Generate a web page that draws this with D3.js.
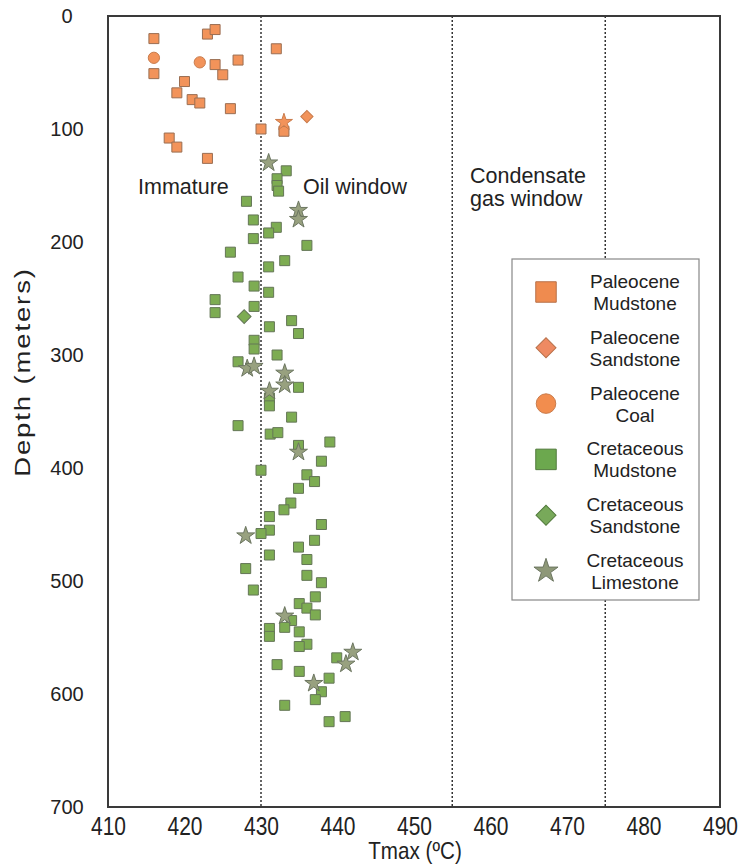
<!DOCTYPE html>
<html><head><meta charset="utf-8">
<script src="https://cdn.jsdelivr.net/npm/d3@7"></script>
<style>html,body{margin:0;padding:0;background:#fff;}svg{display:block;}</style>
</head><body>
<svg id="c" width="739" height="867"></svg>
<script>
// ---- data: [Tmax (°C), Depth (m)] ----
const paleoMudstone = [[416,20],[423,16],[424,12],[432,29],[424,43],[427,39],[416,51],[425,52],[420,58],[419,68],[421,74],[422,77],[426,82],[430,100],[433,102],[418,108],[419,116],[423,126]];
const paleoSandstone = [[436,89]];
const paleoCoal = [[416,37],[422,41]];
const paleoOther = [[433,94]];
const cretMudstone = [[433.3,137],[432.1,144],[432.1,150],[432.3,155],[428.1,164],[429,180.5],[432,187],[431,192],[429,197],[436,203],[426,209],[433.1,216.5],[431,222],[427,231],[429.1,239],[431,244.5],[424,251],[429.1,257],[424,262.5],[434,269.6],[431.1,275],[434.9,281],[429.1,287],[429.1,294.7],[432.1,300],[427,306],[434.9,328.6],[431.1,338],[431.1,345],[434,355],[427,362.5],[431.2,370],[432.2,368.7],[439,377],[434.9,380],[437.9,394],[430,402],[436,406],[437,412],[434.9,418],[433.9,431],[433,437],[431.1,443],[437.9,450],[431.1,455],[430,458],[437,464],[434.9,470],[431.1,477],[436,481],[428,489],[436,495],[437.9,501.5],[429,508],[437.1,514],[435,520],[436,524],[437.1,530],[434,535],[433.1,541],[431.1,542],[431.1,549],[435,545],[436,556],[435,558],[439.9,568],[432.1,574],[435,580],[438.9,586],[437.9,598],[437.1,605],[433.1,610],[441,620],[438.9,624.5]];
const cretSandstone = [[427.8,266]];
const cretLimestone = [[431,130],[434.9,172],[434.9,180],[428.2,312],[429.1,310],[433.1,316],[433.1,326.5],[431.1,332],[434.9,386],[428,460],[433.1,531],[442,563],[441.1,573.5],[436.9,590.6]];

const xTicks = [410,420,430,440,450,460,470,480,490];
const yTicks = [0,100,200,300,400,500,600,700];
const zoneLines = [430,455,475];
const legendLabels = [["Paleocene","Mudstone"],["Paleocene","Sandstone"],["Paleocene","Coal"],["Cretaceous","Mudstone"],["Cretaceous","Sandstone"],["Cretaceous","Limestone"]];

const svg = d3.select("#c");
const L=108, R=720, T=16, B=807;
const x = d3.scaleLinear().domain([410,490]).range([L,R]);
const y = d3.scaleLinear().domain([0,700]).range([T,B]);
const FONT = "Liberation Sans, Arial, sans-serif";

const OR = "#F2935A", ORS = "#9a6e52", GR = "#7DAC52", GRS = "#647656", ST = "#98A17F", STS = "#6b7560";

// zone dashed lines
svg.selectAll("line.zone").data(zoneLines).join("line")
  .attr("x1",d=>x(d)).attr("x2",d=>x(d)).attr("y1",T).attr("y2",B)
  .attr("stroke","#333").attr("stroke-width",1.5).attr("stroke-dasharray","2,2");

// annotations
const ann = svg.append("g").attr("font-family",FONT).attr("font-size",21.5).attr("fill","#222");
ann.append("text").attr("x",138).attr("y",194).text("Immature");
ann.append("text").attr("x",303).attr("y",194).text("Oil window");
ann.append("text").attr("x",470).attr("y",183).text("Condensate");
ann.append("text").attr("x",470).attr("y",206).text("gas window");

// points
function plot(data, type, size, fill, stroke, rot){
  svg.append("g").selectAll("path").data(data).join("path")
    .attr("transform",d=>`translate(${x(d[0])},${y(d[1])}) rotate(${rot||0})`)
    .attr("d",d3.symbol().type(type).size(size)())
    .attr("fill",fill).attr("stroke",stroke).attr("stroke-width",1);
}
plot(paleoMudstone, d3.symbolSquare, 100, OR, ORS);
plot(paleoCoal, d3.symbolCircle, 100, OR, "#c97b4b");
plot(paleoSandstone, d3.symbolSquare, 75, OR, "#c97b4b", 45);
plot(paleoOther, d3.symbolStar, 90, OR, "#c97b4b");
plot(cretMudstone, d3.symbolSquare, 100, GR, GRS);
plot(cretSandstone, d3.symbolSquare, 95, GR, GRS, 45);
plot(cretLimestone, d3.symbolStar, 100, ST, STS);

// frame
svg.append("rect").attr("x",L).attr("y",T).attr("width",R-L).attr("height",B-T)
  .attr("fill","none").attr("stroke","#3a3a3a").attr("stroke-width",2);

// axes
const xAxis = svg.append("g").attr("transform",`translate(0,${B})`)
  .call(d3.axisBottom(x).tickValues(xTicks).tickSize(0).tickPadding(10));
xAxis.select(".domain").remove();
xAxis.selectAll("text").attr("font-family",FONT).attr("font-size",25).attr("fill","#222")
  .attr("transform","scale(0.84,1)");

const yAxis = svg.append("g").attr("transform",`translate(67,0)`)
  .call(d3.axisLeft(y).tickValues(yTicks).tickSize(0).tickPadding(0));
yAxis.select(".domain").remove();
yAxis.selectAll("text").attr("text-anchor","middle").attr("font-family",FONT).attr("font-size",20).attr("fill","#222");

svg.append("text").attr("transform","translate(415,859) scale(0.86,1)").attr("text-anchor","middle")
  .attr("font-family",FONT).attr("font-size",24).attr("fill","#222").text("Tmax (ºC)");
svg.append("text").attr("transform","translate(30,372) rotate(-90) scale(1.25,1)").attr("text-anchor","middle")
  .attr("font-family",FONT).attr("font-size",22).attr("letter-spacing",1.5).attr("fill","#222").text("Depth (meters)");

// legend
const lg = svg.append("g");
lg.append("rect").attr("x",512).attr("y",259).attr("width",187).attr("height",341)
  .attr("fill","#fff").attr("stroke","#888").attr("stroke-width",1.2);
const legSyms = [
  {t:d3.symbolSquare,s:420,f:"#EF8B4F",k:"#b8714a",r:0},
  {t:d3.symbolSquare,s:200,f:"#EE8A62",k:"#b8714a",r:45},
  {t:d3.symbolCircle,s:300,f:"#F28D4E",k:"#c97b4b",r:0},
  {t:d3.symbolSquare,s:420,f:"#6CA84E",k:"#527a3d",r:0},
  {t:d3.symbolSquare,s:200,f:"#78A95A",k:"#527a3d",r:45},
  {t:d3.symbolStar,s:180,f:"#8E9878",k:"#6b7560",r:0}
];
legendLabels.forEach((lab,i)=>{
  const cy = 292 + i*55.8;
  lg.append("path").attr("transform",`translate(546,${cy}) rotate(${legSyms[i].r})`)
    .attr("d",d3.symbol().type(legSyms[i].t).size(legSyms[i].s)())
    .attr("fill",legSyms[i].f).attr("stroke",legSyms[i].k).attr("stroke-width",1);
  const tx = lg.append("text").attr("x",635).attr("text-anchor","middle")
    .attr("font-family",FONT).attr("font-size",19).attr("fill","#222");
  tx.append("tspan").attr("x",635).attr("y",cy-4).text(lab[0]);
  tx.append("tspan").attr("x",635).attr("y",cy+18).text(lab[1]);
});
</script>
</body></html>
